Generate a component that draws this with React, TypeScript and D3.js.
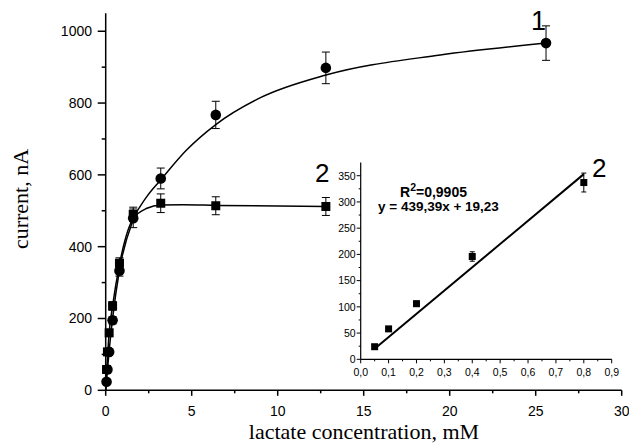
import React from "react";
import * as d3 from "d3";

// Main chart data
const concentrations = [0.05, 0.1, 0.2, 0.4, 0.8, 1.6, 3.2, 6.4, 12.8, 25.6];
const series1Values = [24, 58, 107, 195, 333, 479, 590, 767, 898, 967];
const series1Errors = [3, 5, 8, 10, 15, 26, 29, 38, 44, 48];

const series2Conc = [0.05, 0.1, 0.2, 0.4, 0.8, 1.6, 3.2, 6.4, 12.8];
const series2Values = [58, 107, 160, 235, 354, 490, 521, 514, 512];
const series2Errors = [4, 6, 10, 12, 15, 20, 26, 25, 25];

// Fitted curves
const fit1X = [0, 0.2, 0.4, 0.8, 1.6, 2.4, 3.2, 4.7, 6.4, 9, 12.8, 19.45, 25.6];
const fit1Y = [0, 110, 200, 335, 475, 540, 586, 669, 740, 815, 878, 934, 967];
const fit2X = [0, 0.2, 0.4, 0.8, 1.6, 2.4, 3.2, 4.5, 6.4, 12.8];
const fit2Y = [0, 160, 235, 350, 478, 507, 516, 517, 515, 512];

const xTicks = [0, 5, 10, 15, 20, 25, 30];
const yTicks = [0, 200, 400, 600, 800, 1000];

// Inset data
const insetConc = [0.05, 0.1, 0.2, 0.4, 0.8];
const insetValues = [24, 58, 106, 196, 337];
const insetErrors = [3, 4, 5, 9, 18];
const insetFitX = [0.05, 0.8];
const insetFitY = [20, 353];
const insetXTicks = [0, 0.1, 0.2, 0.3, 0.4, 0.5, 0.6, 0.7, 0.8, 0.9];
const insetYTicks = [0, 50, 100, 150, 200, 250, 300, 350];

const SANS = "'Liberation Sans', Arial, sans-serif";
const SERIF = "'Liberation Serif', 'Times New Roman', serif";

export default function App() {
  const x = d3.scaleLinear().domain([0, 30]).range([105.7, 621.7]);
  const y = d3.scaleLinear().domain([0, 1050]).range([390.3, 13.3]);

  const ix = d3.scaleLinear().domain([0, 0.9]).range([360.7, 611.7]);
  const iy = d3.scaleLinear().domain([0, 375]).range([359.3, 162.6]);

  const line = d3
    .line<[number, number]>()
    .x((d) => x(d[0]))
    .y((d) => y(d[1]))
    .curve(d3.curveMonotoneX);

  const fit1 = fit1X.map((v, i) => [v, fit1Y[i]] as [number, number]);
  const fit2 = fit2X.map((v, i) => [v, fit2Y[i]] as [number, number]);

  const insetLine = d3
    .line<[number, number]>()
    .x((d) => ix(d[0]))
    .y((d) => iy(d[1]));
  const insetFit = insetFitX.map((v, i) => [v, insetFitY[i]] as [number, number]);

  const xMinor = d3.range(0, 30.01, 2.5).filter((v) => v % 5 !== 0);
  const yMinor = d3.range(100, 1050, 200);
  const ixMinor = d3.range(0.05, 0.9, 0.1);
  const iyMinor = d3.range(25, 375, 50);

  const errBar = (
    cx: number,
    yTop: number,
    yBot: number,
    cap: number,
    key: string
  ) => (
    <g key={key} stroke="#000" strokeWidth={1}>
      <line x1={cx} x2={cx} y1={yTop} y2={yBot} />
      <line x1={cx - cap} x2={cx + cap} y1={yTop} y2={yTop} />
      <line x1={cx - cap} x2={cx + cap} y1={yBot} y2={yBot} />
    </g>
  );

  return (
    <svg
      width={629}
      height={446}
      style={{ position: "absolute", left: 0, top: 0, background: "#fff" }}
    >
      <rect width={629} height={446} fill="#fff" />
      {/* Main axes */}
      <line x1={x(0)} x2={x(30)} y1={y(0)} y2={y(0)} stroke="#000" strokeWidth={1.5} />
      <line x1={x(0)} x2={x(0)} y1={y(0)} y2={y(1050)} stroke="#000" strokeWidth={1.5} />
      {xTicks.map((t) => (
        <g key={"xt" + t}>
          <line x1={x(t)} x2={x(t)} y1={y(0)} y2={y(0) + 5.5} stroke="#000" strokeWidth={1.5} />
          <text x={x(t)} y={416} textAnchor="middle" fontFamily={SANS} fontSize={14}>
            {t}
          </text>
        </g>
      ))}
      {xMinor.map((t) => (
        <line key={"xm" + t} x1={x(t)} x2={x(t)} y1={y(0)} y2={y(0) + 3} stroke="#000" strokeWidth={1.5} />
      ))}
      {yTicks.map((t) => (
        <g key={"yt" + t}>
          <line x1={x(0) - 8} x2={x(0)} y1={y(t)} y2={y(t)} stroke="#000" strokeWidth={1.5} />
          <text x={92} y={y(t) + 5} textAnchor="end" fontFamily={SANS} fontSize={14}>
            {t}
          </text>
        </g>
      ))}
      {yMinor.map((t) => (
        <line key={"ym" + t} x1={x(0) - 4} x2={x(0)} y1={y(t)} y2={y(t)} stroke="#000" strokeWidth={1.5} />
      ))}

      {/* Axis titles */}
      <text x={364} y={439} textAnchor="middle" fontFamily={SERIF} fontSize={22}>
        lactate concentration, mM
      </text>
      <text
        transform={`translate(28,199) rotate(-90)`}
        textAnchor="middle"
        fontFamily={SERIF}
        fontSize={22}
      >
        current, nA
      </text>

      {/* Fitted curves */}
      <path d={line(fit1) || ""} fill="none" stroke="#000" strokeWidth={1.5} />
      <path d={line(fit2) || ""} fill="none" stroke="#000" strokeWidth={1.5} />

      {/* Series 2 squares */}
      {series2Conc.map((c, i) =>
        errBar(x(c), y(series2Values[i] + series2Errors[i]), y(series2Values[i] - series2Errors[i]), 4, "e2" + i)
      )}
      {series2Conc.map((c, i) => (
        <rect key={"s2" + i} x={x(c) - 4.5} y={y(series2Values[i]) - 4.5} width={9} height={9} fill="#000" />
      ))}

      {/* Series 1 circles */}
      {concentrations.map((c, i) =>
        errBar(x(c), y(series1Values[i] + series1Errors[i]), y(series1Values[i] - series1Errors[i]), 4, "e1" + i)
      )}
      {concentrations.map((c, i) => (
        <circle key={"s1" + i} cx={x(c)} cy={y(series1Values[i])} r={5.3} fill="#000" />
      ))}

      {/* Curve labels */}
      <text x={531} y={30} fontFamily={SANS} fontSize={27}>1</text>
      <text x={315} y={182} fontFamily={SANS} fontSize={26}>2</text>
      <text x={592} y={177} fontFamily={SANS} fontSize={26}>2</text>

      {/* Inset */}
      <line x1={ix(0)} x2={ix(0.9)} y1={iy(0)} y2={iy(0)} stroke="#000" strokeWidth={1.2} />
      <line x1={ix(0)} x2={ix(0)} y1={iy(0)} y2={iy(375)} stroke="#000" strokeWidth={1.2} />
      {insetXTicks.map((t) => (
        <g key={"ixt" + t}>
          <line x1={ix(t)} x2={ix(t)} y1={iy(0)} y2={iy(0) + 4} stroke="#000" strokeWidth={1} />
          <text x={ix(t)} y={376} textAnchor="middle" fontFamily={SANS} fontSize={10.5}>
            {d3.format(".1f")(t).replace(".", ",")}
          </text>
        </g>
      ))}
      {ixMinor.map((t) => (
        <line key={"ixm" + t} x1={ix(t)} x2={ix(t)} y1={iy(0)} y2={iy(0) + 2} stroke="#000" strokeWidth={1} />
      ))}
      {insetYTicks.map((t) => (
        <g key={"iyt" + t}>
          <line x1={ix(0) - 4} x2={ix(0)} y1={iy(t)} y2={iy(t)} stroke="#000" strokeWidth={1} />
          <text x={ix(0) - 5} y={iy(t) + 3.8} textAnchor="end" fontFamily={SANS} fontSize={10.5}>
            {t}
          </text>
        </g>
      ))}
      {iyMinor.map((t) => (
        <line key={"iym" + t} x1={ix(0) - 2} x2={ix(0)} y1={iy(t)} y2={iy(t)} stroke="#000" strokeWidth={1} />
      ))}
      <path d={insetLine(insetFit) || ""} fill="none" stroke="#000" strokeWidth={2} />
      {insetConc.map((c, i) =>
        errBar(ix(c), iy(insetValues[i] + insetErrors[i]), iy(insetValues[i] - insetErrors[i]), 2.5, "ie" + i)
      )}
      {insetConc.map((c, i) => (
        <rect key={"is" + i} x={ix(c) - 3.5} y={iy(insetValues[i]) - 3.5} width={7} height={7} fill="#000" />
      ))}
      <text x={400} y={197} fontFamily={SANS} fontSize={14} fontWeight="bold">
        R<tspan dy={-6} fontSize={10.5}>2</tspan>
        <tspan dy={6}>=0,9905</tspan>
      </text>
      <text x={378} y={211} fontFamily={SANS} fontSize={13.5} fontWeight="bold">
        y = 439,39x + 19,23
      </text>
    </svg>
  );
}
